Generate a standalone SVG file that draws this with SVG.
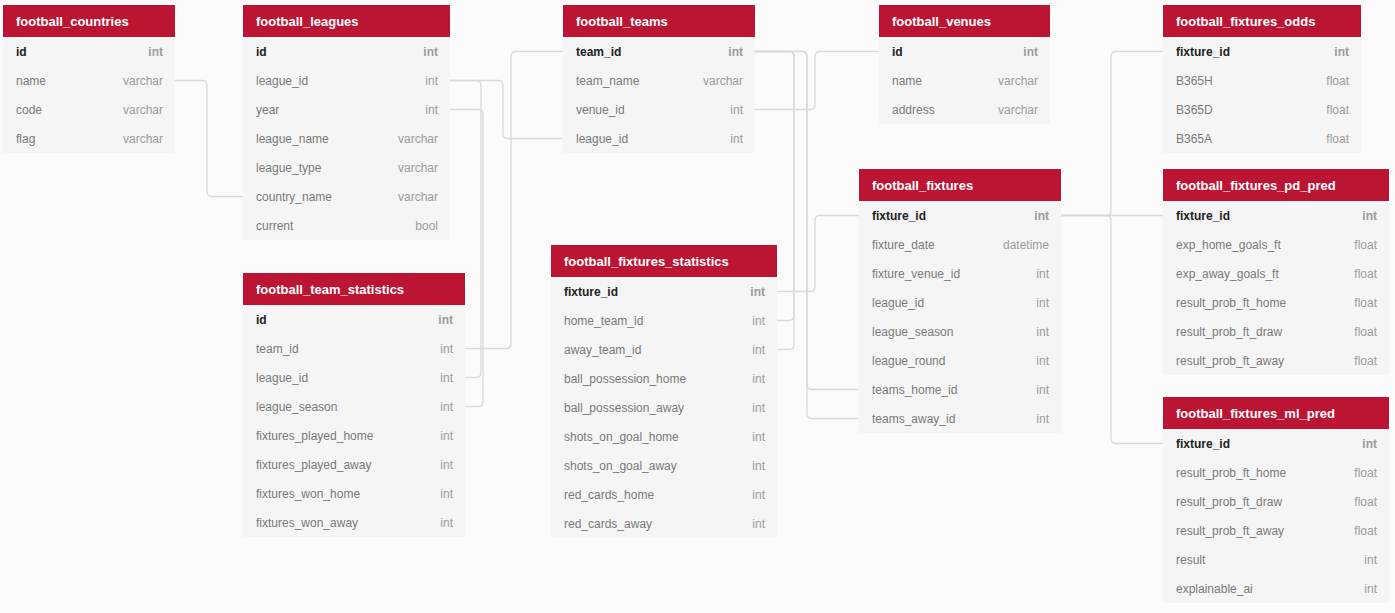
<svg xmlns="http://www.w3.org/2000/svg" width="1395" height="613" viewBox="0 0 1395 613">
<style>
.bg{fill:#fbfbfb}
.hd{fill:#bb1533}
.bd{fill:#f5f5f5}
.ht{font-family:"Liberation Sans",Arial,sans-serif;font-size:13px;font-weight:bold;fill:#ffffff}
.n{font-family:"Liberation Sans",Arial,sans-serif;font-size:12px;fill:#7a7a7a}
.t{font-family:"Liberation Sans",Arial,sans-serif;font-size:12px;fill:#9c9c9c;text-anchor:end}
.pk{font-weight:bold;fill:#222222}
.pkt{font-weight:bold}
.c{fill:none;stroke:#d9d9d9;stroke-width:1.3}
</style>
<rect class="bg" x="0" y="0" width="1395" height="613"/>
<g id="connectors">
<path class="c" d="M175,80.5 H202 Q207,80.5 207,85.5 V191.5 Q207,196.5 212,196.5 H243"/>
<path class="c" d="M450,80.5 H498 Q503,80.5 503,85.5 V133.5 Q503,138.5 508,138.5 H563"/>
<path class="c" d="M450,80.5 H476 Q481,80.5 481,85.5 V372.5 Q481,377.5 476,377.5 H465"/>
<path class="c" d="M450,109.5 H478 Q483,109.5 483,114.5 V401.5 Q483,406.5 478,406.5 H465"/>
<path class="c" d="M465,348.5 H506 Q511,348.5 511,343.5 V56.5 Q511,51.5 516,51.5 H563"/>
<path class="c" d="M755,51.5 H789 Q794,51.5 794,56.5 V315.5 Q794,320.5 789,320.5 H777"/>
<path class="c" d="M755,51.5 H789 Q794,51.5 794,56.5 V344.5 Q794,349.5 789,349.5 H777"/>
<path class="c" d="M755,51.5 H802 Q807,51.5 807,56.5 V384.5 Q807,389.5 812,389.5 H859"/>
<path class="c" d="M755,51.5 H802 Q807,51.5 807,56.5 V413.5 Q807,418.5 812,418.5 H859"/>
<path class="c" d="M755,109.5 H810 Q815,109.5 815,104.5 V56.5 Q815,51.5 820,51.5 H879"/>
<path class="c" d="M777,291.5 H810 Q815,291.5 815,286.5 V220.5 Q815,215.5 820,215.5 H859"/>
<path class="c" d="M1061,215.5 H1163"/>
<path class="c" d="M1061,215.5 H1106 Q1111,215.5 1111,210.5 V56.5 Q1111,51.5 1116,51.5 H1163"/>
<path class="c" d="M1061,215.5 H1106 Q1111,215.5 1111,220.5 V438.5 Q1111,443.5 1116,443.5 H1163"/>
</g>
<g id="football_countries">
<rect class="hd" x="3" y="5" width="172" height="32"/>
<rect class="bd" x="3" y="37" width="172" height="116"/>
<text class="ht" x="16" y="26">football_countries</text>
<text class="n pk" x="16" y="56">id</text><text class="t pkt" x="163" y="56">int</text>
<text class="n" x="16" y="85">name</text><text class="t" x="163" y="85">varchar</text>
<text class="n" x="16" y="114">code</text><text class="t" x="163" y="114">varchar</text>
<text class="n" x="16" y="143">flag</text><text class="t" x="163" y="143">varchar</text>
</g>
<g id="football_leagues">
<rect class="hd" x="243" y="5" width="207" height="32"/>
<rect class="bd" x="243" y="37" width="207" height="203"/>
<text class="ht" x="256" y="26">football_leagues</text>
<text class="n pk" x="256" y="56">id</text><text class="t pkt" x="438" y="56">int</text>
<text class="n" x="256" y="85">league_id</text><text class="t" x="438" y="85">int</text>
<text class="n" x="256" y="114">year</text><text class="t" x="438" y="114">int</text>
<text class="n" x="256" y="143">league_name</text><text class="t" x="438" y="143">varchar</text>
<text class="n" x="256" y="172">league_type</text><text class="t" x="438" y="172">varchar</text>
<text class="n" x="256" y="201">country_name</text><text class="t" x="438" y="201">varchar</text>
<text class="n" x="256" y="230">current</text><text class="t" x="438" y="230">bool</text>
</g>
<g id="football_team_statistics">
<rect class="hd" x="243" y="273" width="222" height="32"/>
<rect class="bd" x="243" y="305" width="222" height="232"/>
<text class="ht" x="256" y="294">football_team_statistics</text>
<text class="n pk" x="256" y="324">id</text><text class="t pkt" x="453" y="324">int</text>
<text class="n" x="256" y="353">team_id</text><text class="t" x="453" y="353">int</text>
<text class="n" x="256" y="382">league_id</text><text class="t" x="453" y="382">int</text>
<text class="n" x="256" y="411">league_season</text><text class="t" x="453" y="411">int</text>
<text class="n" x="256" y="440">fixtures_played_home</text><text class="t" x="453" y="440">int</text>
<text class="n" x="256" y="469">fixtures_played_away</text><text class="t" x="453" y="469">int</text>
<text class="n" x="256" y="498">fixtures_won_home</text><text class="t" x="453" y="498">int</text>
<text class="n" x="256" y="527">fixtures_won_away</text><text class="t" x="453" y="527">int</text>
</g>
<g id="football_teams">
<rect class="hd" x="563" y="5" width="192" height="32"/>
<rect class="bd" x="563" y="37" width="192" height="116"/>
<text class="ht" x="576" y="26">football_teams</text>
<text class="n pk" x="576" y="56">team_id</text><text class="t pkt" x="743" y="56">int</text>
<text class="n" x="576" y="85">team_name</text><text class="t" x="743" y="85">varchar</text>
<text class="n" x="576" y="114">venue_id</text><text class="t" x="743" y="114">int</text>
<text class="n" x="576" y="143">league_id</text><text class="t" x="743" y="143">int</text>
</g>
<g id="football_fixtures_statistics">
<rect class="hd" x="551" y="245" width="226" height="32"/>
<rect class="bd" x="551" y="277" width="226" height="261"/>
<text class="ht" x="564" y="266">football_fixtures_statistics</text>
<text class="n pk" x="564" y="296">fixture_id</text><text class="t pkt" x="765" y="296">int</text>
<text class="n" x="564" y="325">home_team_id</text><text class="t" x="765" y="325">int</text>
<text class="n" x="564" y="354">away_team_id</text><text class="t" x="765" y="354">int</text>
<text class="n" x="564" y="383">ball_possession_home</text><text class="t" x="765" y="383">int</text>
<text class="n" x="564" y="412">ball_possession_away</text><text class="t" x="765" y="412">int</text>
<text class="n" x="564" y="441">shots_on_goal_home</text><text class="t" x="765" y="441">int</text>
<text class="n" x="564" y="470">shots_on_goal_away</text><text class="t" x="765" y="470">int</text>
<text class="n" x="564" y="499">red_cards_home</text><text class="t" x="765" y="499">int</text>
<text class="n" x="564" y="528">red_cards_away</text><text class="t" x="765" y="528">int</text>
</g>
<g id="football_venues">
<rect class="hd" x="879" y="5" width="171" height="32"/>
<rect class="bd" x="879" y="37" width="171" height="87"/>
<text class="ht" x="892" y="26">football_venues</text>
<text class="n pk" x="892" y="56">id</text><text class="t pkt" x="1038" y="56">int</text>
<text class="n" x="892" y="85">name</text><text class="t" x="1038" y="85">varchar</text>
<text class="n" x="892" y="114">address</text><text class="t" x="1038" y="114">varchar</text>
</g>
<g id="football_fixtures">
<rect class="hd" x="859" y="169" width="202" height="32"/>
<rect class="bd" x="859" y="201" width="202" height="232"/>
<text class="ht" x="872" y="190">football_fixtures</text>
<text class="n pk" x="872" y="220">fixture_id</text><text class="t pkt" x="1049" y="220">int</text>
<text class="n" x="872" y="249">fixture_date</text><text class="t" x="1049" y="249">datetime</text>
<text class="n" x="872" y="278">fixture_venue_id</text><text class="t" x="1049" y="278">int</text>
<text class="n" x="872" y="307">league_id</text><text class="t" x="1049" y="307">int</text>
<text class="n" x="872" y="336">league_season</text><text class="t" x="1049" y="336">int</text>
<text class="n" x="872" y="365">league_round</text><text class="t" x="1049" y="365">int</text>
<text class="n" x="872" y="394">teams_home_id</text><text class="t" x="1049" y="394">int</text>
<text class="n" x="872" y="423">teams_away_id</text><text class="t" x="1049" y="423">int</text>
</g>
<g id="football_fixtures_odds">
<rect class="hd" x="1163" y="5" width="198" height="32"/>
<rect class="bd" x="1163" y="37" width="198" height="116"/>
<text class="ht" x="1176" y="26">football_fixtures_odds</text>
<text class="n pk" x="1176" y="56">fixture_id</text><text class="t pkt" x="1349" y="56">int</text>
<text class="n" x="1176" y="85">B365H</text><text class="t" x="1349" y="85">float</text>
<text class="n" x="1176" y="114">B365D</text><text class="t" x="1349" y="114">float</text>
<text class="n" x="1176" y="143">B365A</text><text class="t" x="1349" y="143">float</text>
</g>
<g id="football_fixtures_pd_pred">
<rect class="hd" x="1163" y="169" width="226" height="32"/>
<rect class="bd" x="1163" y="201" width="226" height="174"/>
<text class="ht" x="1176" y="190">football_fixtures_pd_pred</text>
<text class="n pk" x="1176" y="220">fixture_id</text><text class="t pkt" x="1377" y="220">int</text>
<text class="n" x="1176" y="249">exp_home_goals_ft</text><text class="t" x="1377" y="249">float</text>
<text class="n" x="1176" y="278">exp_away_goals_ft</text><text class="t" x="1377" y="278">float</text>
<text class="n" x="1176" y="307">result_prob_ft_home</text><text class="t" x="1377" y="307">float</text>
<text class="n" x="1176" y="336">result_prob_ft_draw</text><text class="t" x="1377" y="336">float</text>
<text class="n" x="1176" y="365">result_prob_ft_away</text><text class="t" x="1377" y="365">float</text>
</g>
<g id="football_fixtures_ml_pred">
<rect class="hd" x="1163" y="397" width="226" height="32"/>
<rect class="bd" x="1163" y="429" width="226" height="174"/>
<text class="ht" x="1176" y="418">football_fixtures_ml_pred</text>
<text class="n pk" x="1176" y="448">fixture_id</text><text class="t pkt" x="1377" y="448">int</text>
<text class="n" x="1176" y="477">result_prob_ft_home</text><text class="t" x="1377" y="477">float</text>
<text class="n" x="1176" y="506">result_prob_ft_draw</text><text class="t" x="1377" y="506">float</text>
<text class="n" x="1176" y="535">result_prob_ft_away</text><text class="t" x="1377" y="535">float</text>
<text class="n" x="1176" y="564">result</text><text class="t" x="1377" y="564">int</text>
<text class="n" x="1176" y="593">explainable_ai</text><text class="t" x="1377" y="593">int</text>
</g>
</svg>
